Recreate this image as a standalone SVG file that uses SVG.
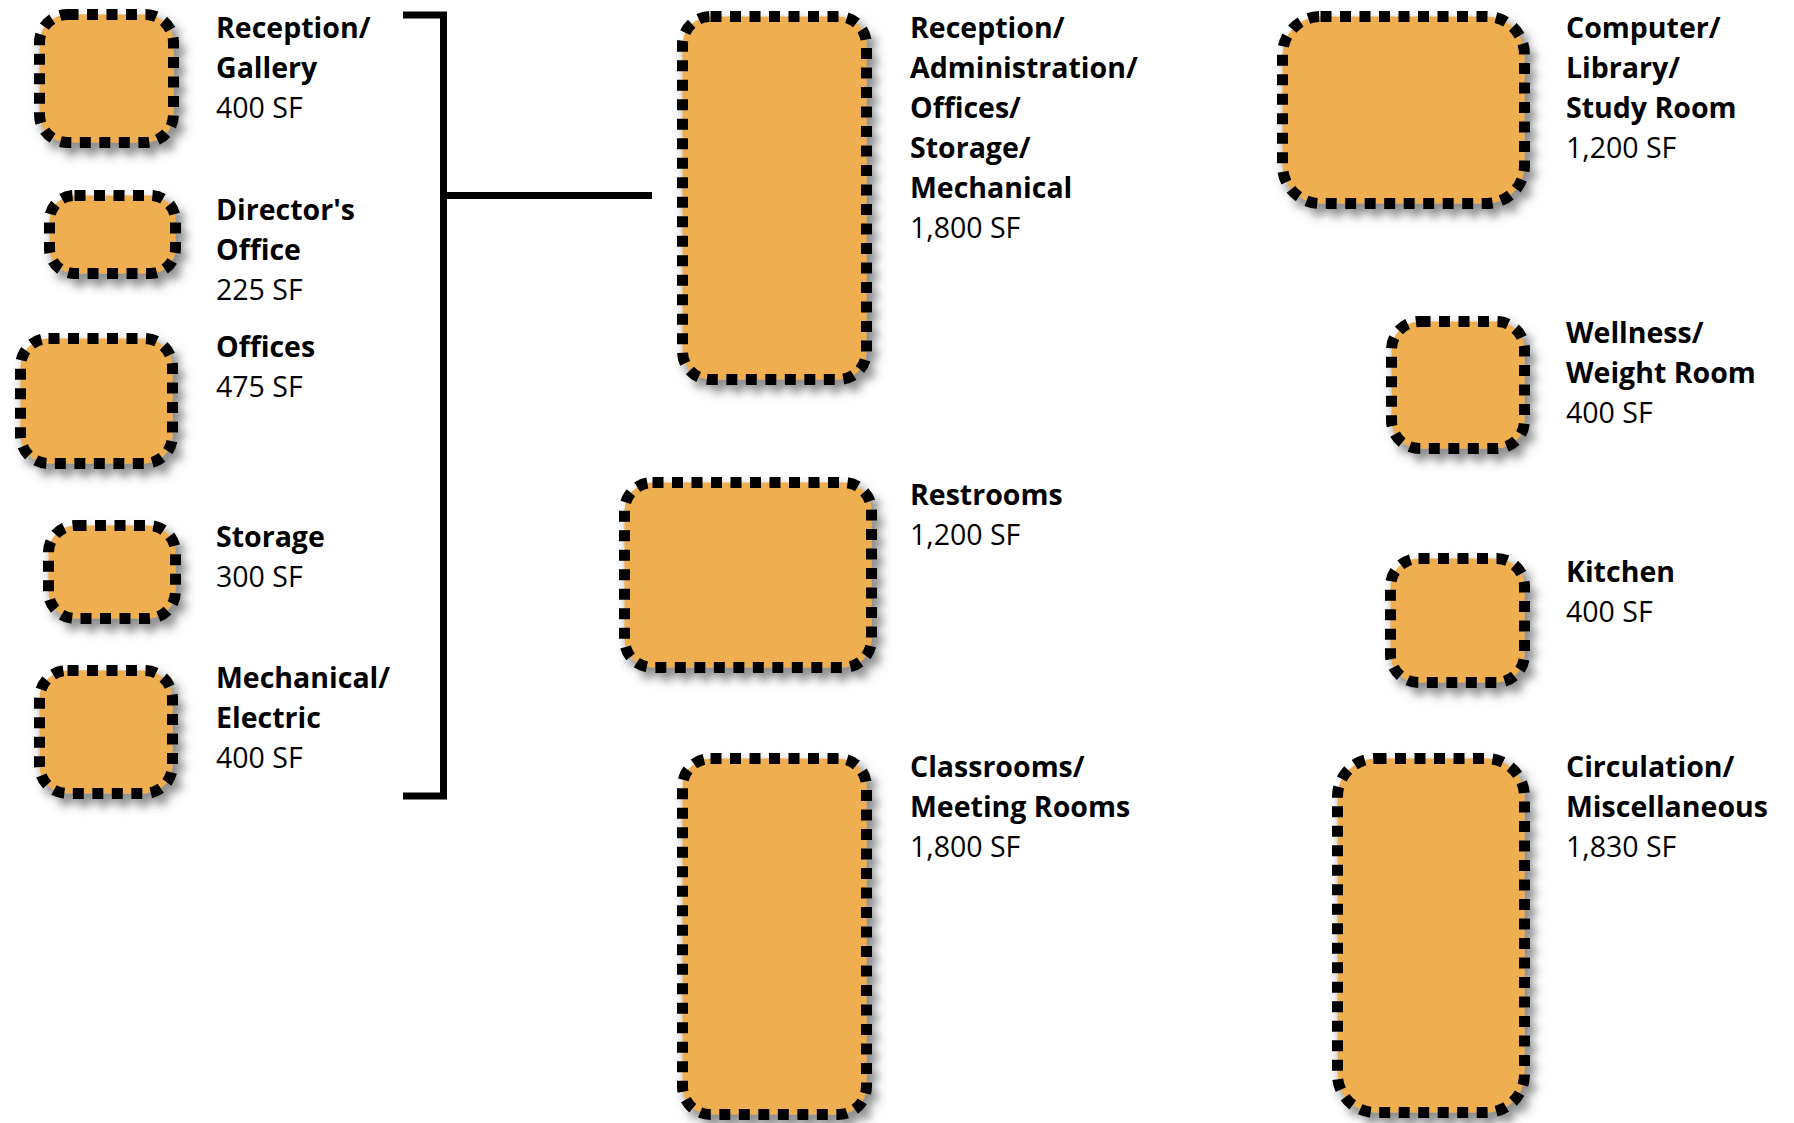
<svg xmlns="http://www.w3.org/2000/svg" width="1794" height="1123" viewBox="0 0 1794 1123">
<defs>
<filter id="sh" x="-20%" y="-20%" width="150%" height="150%">
<feDropShadow dx="6" dy="8" stdDeviation="5" flood-color="#444" flood-opacity="0.6"/>
</filter>
<style>
.box{fill:#EFAE4F;stroke:#000;stroke-width:11;stroke-dasharray:11 8.5;filter:url(#sh)}
.t{font-family:"Open Sans","Noto Sans","Liberation Sans",sans-serif;font-size:28.5px;fill:#000}
.b{font-weight:700}
.conn{fill:none;stroke:#000;stroke-width:7;stroke-linecap:butt;stroke-linejoin:miter}
</style>
</defs>
<rect width="1794" height="1123" fill="#fff"/>
<g id="connectors">
<path class="conn" d="M403 15 H443.5 V796 H403"/>
<path class="conn" d="M443.5 195.5 H652"/>
</g>
<g id="reception-gallery">
<rect class="box" x="39.5" y="14.5" width="134" height="128" rx="28"/>
<text class="t"><tspan class="b" x="216" y="38">Reception/</tspan><tspan class="b" x="216" y="78">Gallery</tspan><tspan x="216" y="118">400 SF</tspan></text>
</g>
<g id="directors-office">
<rect class="box" x="49.5" y="195.5" width="126" height="78" rx="25"/>
<text class="t"><tspan class="b" x="216" y="220">Director's</tspan><tspan class="b" x="216" y="260">Office</tspan><tspan x="216" y="300">225 SF</tspan></text>
</g>
<g id="offices">
<rect class="box" x="20.5" y="338.5" width="152" height="125" rx="28"/>
<text class="t"><tspan class="b" x="216" y="357">Offices</tspan><tspan x="216" y="397">475 SF</tspan></text>
</g>
<g id="storage">
<rect class="box" x="48.5" y="525.5" width="127" height="93" rx="27"/>
<text class="t"><tspan class="b" x="216" y="547">Storage</tspan><tspan x="216" y="587">300 SF</tspan></text>
</g>
<g id="mechanical-electric">
<rect class="box" x="39.5" y="670.5" width="133" height="123" rx="28"/>
<text class="t"><tspan class="b" x="216" y="688">Mechanical/</tspan><tspan class="b" x="216" y="728">Electric</tspan><tspan x="216" y="768">400 SF</tspan></text>
</g>
<g id="reception-administration">
<rect class="box" x="682.5" y="16.5" width="184" height="363" rx="28"/>
<text class="t"><tspan class="b" x="910" y="38">Reception/</tspan><tspan class="b" x="910" y="78">Administration/</tspan><tspan class="b" x="910" y="118">Offices/</tspan><tspan class="b" x="910" y="158">Storage/</tspan><tspan class="b" x="910" y="198">Mechanical</tspan><tspan x="910" y="238">1,800 SF</tspan></text>
</g>
<g id="restrooms">
<rect class="box" x="624.5" y="482.5" width="247" height="185" rx="28"/>
<text class="t"><tspan class="b" x="910" y="505">Restrooms</tspan><tspan x="910" y="545">1,200 SF</tspan></text>
</g>
<g id="classrooms">
<rect class="box" x="682.5" y="758.5" width="184" height="356" rx="28"/>
<text class="t"><tspan class="b" x="910" y="777">Classrooms/</tspan><tspan class="b" x="910" y="817">Meeting Rooms</tspan><tspan x="910" y="857">1,800 SF</tspan></text>
</g>
<g id="computer-library">
<rect class="box" x="1282.5" y="16.5" width="242" height="187" rx="38"/>
<text class="t"><tspan class="b" x="1566" y="38">Computer/</tspan><tspan class="b" x="1566" y="78">Library/</tspan><tspan class="b" x="1566" y="118">Study Room</tspan><tspan x="1566" y="158">1,200 SF</tspan></text>
</g>
<g id="wellness">
<rect class="box" x="1391.5" y="321.5" width="133" height="127" rx="28"/>
<text class="t"><tspan class="b" x="1566" y="343">Wellness/</tspan><tspan class="b" x="1566" y="383">Weight Room</tspan><tspan x="1566" y="423">400 SF</tspan></text>
</g>
<g id="kitchen">
<rect class="box" x="1390.5" y="558.5" width="134" height="124" rx="28"/>
<text class="t"><tspan class="b" x="1566" y="582">Kitchen</tspan><tspan x="1566" y="622">400 SF</tspan></text>
</g>
<g id="circulation">
<rect class="box" x="1337.5" y="758.5" width="187" height="354" rx="38"/>
<text class="t"><tspan class="b" x="1566" y="777">Circulation/</tspan><tspan class="b" x="1566" y="817">Miscellaneous</tspan><tspan x="1566" y="857">1,830 SF</tspan></text>
</g>
</svg>
